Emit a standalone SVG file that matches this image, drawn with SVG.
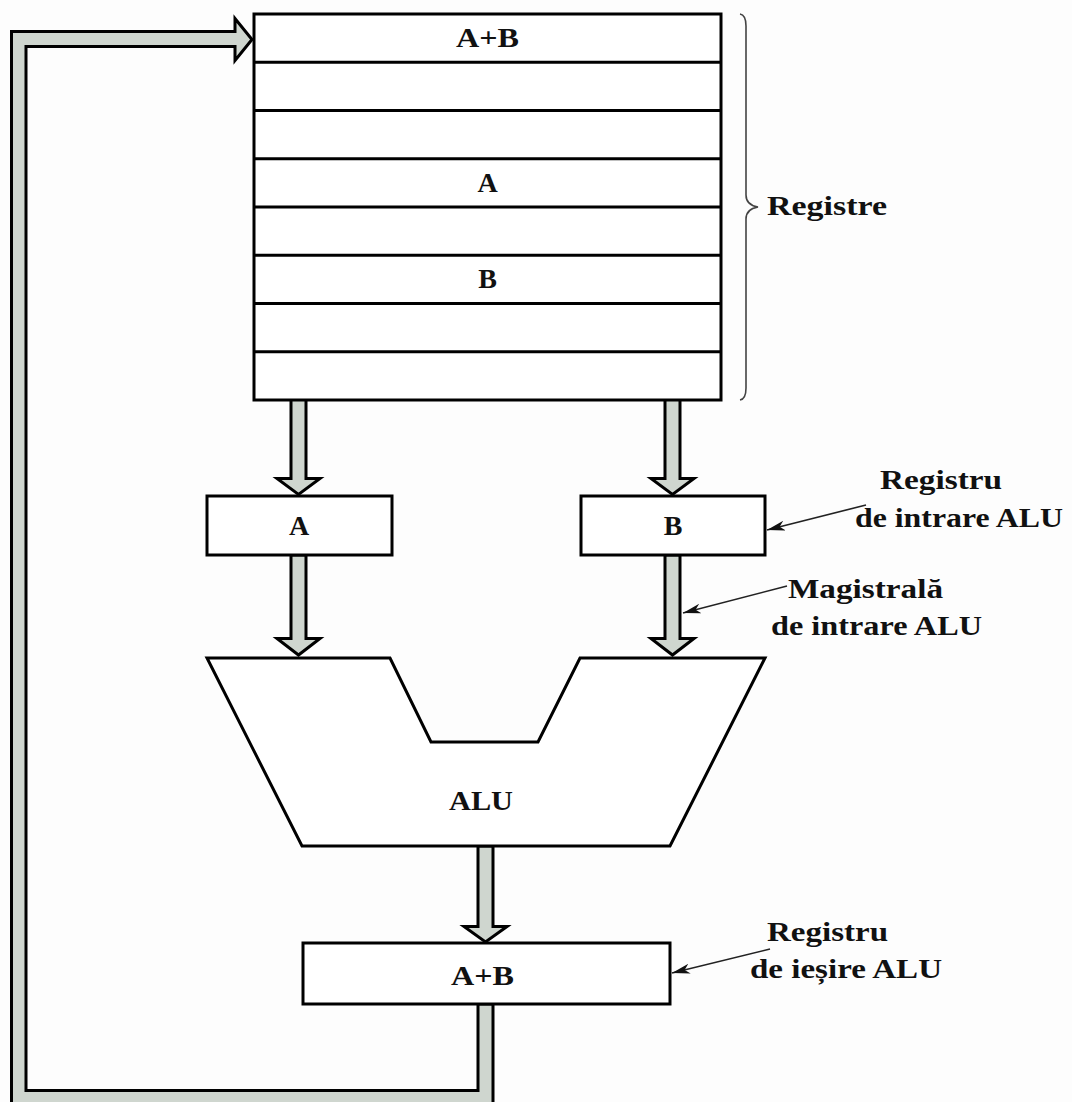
<svg xmlns="http://www.w3.org/2000/svg" width="1072" height="1102" viewBox="0 0 1072 1102">
<style>
.box{fill:#ffffff;stroke:#000;stroke-width:3}
.row{stroke:#000;stroke-width:3}
.bus{fill:#cfd6cf;stroke:#000;stroke-width:3;stroke-linejoin:miter}
.lead{fill:none;stroke:#222;stroke-width:1.6}
.brace{fill:none;stroke:#444;stroke-width:1.6}
.t{font-family:"Liberation Serif","Times New Roman",serif;font-weight:bold;font-size:28px;fill:#111}
.c{text-anchor:middle}
</style>
<defs>
<marker id="ah" markerUnits="userSpaceOnUse" markerWidth="20" markerHeight="12" refX="18" refY="5" orient="auto">
<path d="M0,0 L18,5 L0,10 L5,5 Z" fill="#111"/>
</marker>
</defs>
<rect x="0" y="0" width="1072" height="1102" fill="#fdfdfd"/>
<g id="connectors">
<path class="bus" d="M478,1004 V1090.5 H26 V46.5 H235 V60.5 L252,39.5 L235,18.5 V31.5 H11.5 V1106 H493 V1004 Z"/>
<path class="bus" d="M291,398 V478.5 H277 L298.5,494.5 L320,478.5 H306 V398 Z"/>
<path class="bus" d="M291,555 V638.5 H277 L298.5,655 L320,638.5 H306 V555 Z"/>
<path class="bus" d="M665,398 V478.5 H651 L672.5,494.5 L694,478.5 H680 V398 Z"/>
<path class="bus" d="M665,555 V638.5 H651 L672.5,655 L694,638.5 H680 V555 Z"/>
<path class="bus" d="M478,846 V926.5 H464 L485.5,942 L507,926.5 H493 V846 Z"/>
<line class="lead" x1="866" y1="505" x2="767" y2="530" marker-end="url(#ah)"/>
<line class="lead" x1="787" y1="586" x2="683" y2="613" marker-end="url(#ah)"/>
<line class="lead" x1="770" y1="949" x2="672" y2="973" marker-end="url(#ah)"/>
</g>
<g id="registers">
<rect class="box" x="254" y="14" width="467" height="386"/>
<line class="row" x1="254" y1="62.25" x2="721" y2="62.25"/>
<line class="row" x1="254" y1="110.5" x2="721" y2="110.5"/>
<line class="row" x1="254" y1="158.75" x2="721" y2="158.75"/>
<line class="row" x1="254" y1="207" x2="721" y2="207"/>
<line class="row" x1="254" y1="255.25" x2="721" y2="255.25"/>
<line class="row" x1="254" y1="303.5" x2="721" y2="303.5"/>
<line class="row" x1="254" y1="351.75" x2="721" y2="351.75"/>
<text class="t" x="456" y="47" textLength="63" lengthAdjust="spacingAndGlyphs">A+B</text>
<text class="t c" x="487.5" y="192">A</text>
<text class="t c" x="487.5" y="288">B</text>
</g>
<g id="registre-label">
<path class="brace" d="M740,14 Q746,15 746,26 V195 Q746,205 758,207 Q746,209 746,219 V388 Q746,399 740,400"/>
<text class="t" x="767" y="215" textLength="120" lengthAdjust="spacingAndGlyphs">Registre</text>
</g>
<g id="reg-a">
<rect class="box" x="207" y="496" width="185" height="59"/>
<text class="t c" x="299" y="535">A</text>
</g>
<g id="reg-b">
<rect class="box" x="581" y="496" width="184" height="59"/>
<text class="t c" x="673" y="535">B</text>
</g>
<g id="alu">
<path class="box" d="M207,658 H390 L431,742 H538 L580,658 H765 L670,846 H302 Z"/>
<text class="t" x="449" y="810" textLength="64" lengthAdjust="spacingAndGlyphs">ALU</text>
</g>
<g id="reg-out">
<rect class="box" x="303" y="943" width="367" height="61"/>
<text class="t" x="451" y="985" textLength="63" lengthAdjust="spacingAndGlyphs">A+B</text>
</g>
<g id="label-reg-in">
<text class="t" x="880" y="489" textLength="122" lengthAdjust="spacingAndGlyphs">Registru</text>
<text class="t" x="855" y="527" textLength="208" lengthAdjust="spacingAndGlyphs">de intrare ALU</text>
</g>
<g id="label-bus-in">
<text class="t" x="788" y="598" textLength="155" lengthAdjust="spacingAndGlyphs">Magistrală</text>
<text class="t" x="771" y="635" textLength="211" lengthAdjust="spacingAndGlyphs">de intrare ALU</text>
</g>
<g id="label-reg-out">
<text class="t" x="767" y="941" textLength="121" lengthAdjust="spacingAndGlyphs">Registru</text>
<text class="t" x="750" y="978" textLength="192" lengthAdjust="spacingAndGlyphs">de ieșire ALU</text>
</g>
</svg>
